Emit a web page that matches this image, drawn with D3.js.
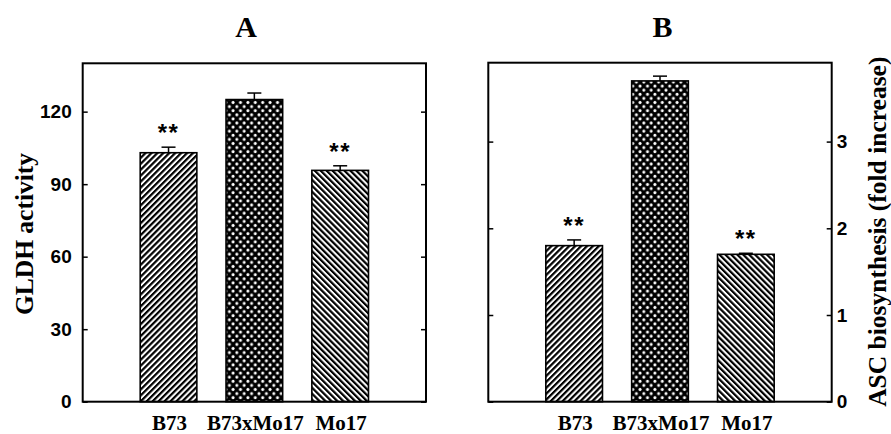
<!DOCTYPE html>
<html><head><meta charset="utf-8">
<script src="https://cdn.jsdelivr.net/npm/d3@7"></script>
<style>body{margin:0;background:#fff}svg{display:block}</style>
</head><body>
<svg id="c" width="891" height="434"></svg>
<script>
const categories = ["B73", "B73xMo17", "Mo17"];
const gldhValues = [103, 125, 95.7];
const gldhErrors = [2.3, 2.7, 1.9];
const gldhTicks = [0, 30, 60, 90, 120];
const ascValues = [1.80, 3.70, 1.70];
const ascErrors = [0.066, 0.055, 0.012];
const ascTicks = [0, 1, 2, 3];
const significant = [true, false, true];
const patterns = ["diagUp", "cross", "diagDown"];

const svg = d3.select("#c");
const defs = svg.append("defs");
function stripes(id, angle) {
  const p = defs.append("pattern").attr("id", id).attr("patternUnits", "userSpaceOnUse")
    .attr("width", 4.2).attr("height", 4.2).attr("patternTransform", `rotate(${angle})`);
  p.append("rect").attr("width", 4.2).attr("height", 4.2).attr("fill", "#fff");
  p.append("rect").attr("x", 0).attr("y", 0).attr("width", 2.2).attr("height", 4.2).attr("fill", "#000");
}
stripes("diagUp", 45);
stripes("diagDown", -45);
const cp = defs.append("pattern").attr("id", "cross").attr("patternUnits", "userSpaceOnUse")
  .attr("width", 7.4).attr("height", 8.2);
cp.append("rect").attr("width", 7.4).attr("height", 8.2).attr("fill", "#000");
[[0,0],[7.4,0],[0,8.2],[7.4,8.2],[3.7,4.1]].forEach(([cx,cy]) =>
  cp.append("circle").attr("cx", cx).attr("cy", cy).attr("r", 1.5).attr("fill", "#fff"));

function panel(opt) {
  const {x0, x1, y0, y1, values, errors, ticks, ymax, title, titleX, ylabel, ylabelX, ylabelY, side} = opt;
  const g = svg.append("g");
  const x = d3.scaleBand().domain(categories).range([x0, x1]).paddingInner(0.34).paddingOuter(0.67);
  const y = d3.scaleLinear().domain([0, ymax]).range([y1, y0]);

  g.selectAll("rect.bar").data(categories).join("rect")
    .attr("x", d => x(d)).attr("width", x.bandwidth())
    .attr("y", (d, i) => y(values[i])).attr("height", (d, i) => y(0) - y(values[i]))
    .attr("fill", (d, i) => `url(#${patterns[i]})`).attr("stroke", "#000").attr("stroke-width", 1.6);

  categories.forEach((d, i) => {
    const cx = x(d) + x.bandwidth() / 2;
    const top = y(values[i] + errors[i]);
    g.append("line").attr("x1", cx).attr("x2", cx).attr("y1", y(values[i])).attr("y2", top)
      .attr("stroke", "#000").attr("stroke-width", 1.5);
    g.append("line").attr("x1", cx - 7).attr("x2", cx + 7).attr("y1", top).attr("y2", top)
      .attr("stroke", "#000").attr("stroke-width", 1.5);
    if (significant[i]) {
      g.append("text").attr("x", cx).attr("y", top - 19 + 13)
        .attr("text-anchor", "middle").attr("font-family", "Liberation Sans, Arial, sans-serif")
        .attr("font-weight", "bold").attr("font-size", 24).attr("letter-spacing", 1.5).text("**");
    }
  });

  const fmt = d3.format("d");
  const left = d3.axisLeft(y).tickValues(ticks).tickSize(-5).tickPadding(11).tickFormat(fmt);
  const right = d3.axisRight(y).tickValues(ticks).tickSize(-5).tickPadding(5).tickFormat(fmt);
  if (side === "left") right.tickFormat(""); else left.tickFormat("");
  const ga = g.append("g").attr("transform", `translate(${x0},0)`).call(left);
  const gb = g.append("g").attr("transform", `translate(${x1},0)`).call(right);
  [ga, gb].forEach(a => {
    a.select(".domain").remove();
    a.selectAll(".tick line").attr("stroke", "#000").attr("stroke-width", 1.5);
    a.selectAll(".tick text").attr("font-family", "Liberation Sans, Arial, sans-serif")
      .attr("font-weight", "bold").attr("font-size", 19).attr("fill", "#000");
  });

  g.append("rect").attr("x", x0).attr("y", y0).attr("width", x1 - x0).attr("height", y1 - y0)
    .attr("fill", "none").attr("stroke", "#000").attr("stroke-width", 2);

  g.selectAll("text.xl").data(categories).join("text").attr("class", "xl")
    .attr("x", d => x(d) + x.bandwidth() / 2 + 1).attr("y", 429.5)
    .attr("text-anchor", "middle").attr("font-family", "Liberation Serif, Times New Roman, serif")
    .attr("font-weight", "bold").attr("font-size", 21).text(d => d);

  g.append("text").attr("x", titleX).attr("y", 37).attr("text-anchor", "middle")
    .attr("font-family", "Liberation Serif, Times New Roman, serif").attr("font-weight", "bold")
    .attr("font-size", 30).text(title);

  g.append("text").attr("transform", `translate(${ylabelX},${ylabelY}) rotate(-90)`)
    .attr("text-anchor", "middle").attr("font-family", "Liberation Serif, Times New Roman, serif")
    .attr("font-weight", "bold").attr("font-size", 25.5).text(ylabel);
}

panel({x0: 82.7, x1: 426, y0: 63.3, y1: 401.7, values: gldhValues, errors: gldhErrors, ticks: gldhTicks,
  ymax: 140, title: "A", titleX: 246, ylabel: "GLDH activity", ylabelX: 33, ylabelY: 234, side: "left"});
panel({x0: 488.3, x1: 831.7, y0: 62.7, y1: 401.7, values: ascValues, errors: ascErrors, ticks: ascTicks,
  ymax: 3.91, title: "B", titleX: 662.5, ylabel: "ASC biosynthesis (fold increase)", ylabelX: 886, ylabelY: 231.7, side: "right"});
</script>
</body></html>
